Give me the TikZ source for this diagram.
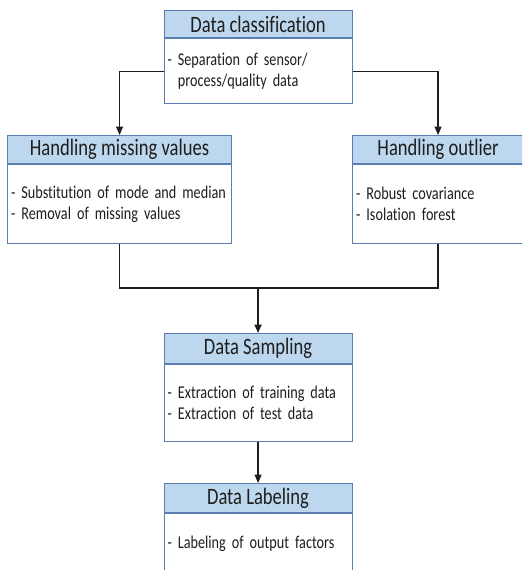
\documentclass[tikz,border=0pt]{standalone}
\usepackage{fontspec}
\setmainfont{Carlito}[FakeStretch=0.79, Ligatures={NoCommon}]
\usetikzlibrary{arrows.meta}
\definecolor{hdrfill}{HTML}{BDD7EE}
\definecolor{boxline}{HTML}{5B7DB1}
\definecolor{ink}{HTML}{1E1E1E}
\tikzset{
  hdr/.style={draw=boxline, line width=1.1pt, fill=hdrfill, anchor=north west,
    inner sep=0pt, text=ink, font=\fontsize{23.5}{27}\selectfont},
  bodybox/.style={draw=boxline, line width=1.1pt, fill=white, anchor=north west,
    inner xsep=3.5pt, inner ysep=0pt, align=left, text=ink,
    font=\fontsize{18}{21}\selectfont},
  link/.style={draw=ink, line width=1.2pt},
  arr/.style={link, -{Triangle[length=8.5pt,width=7pt]}},
  mainarr/.style={arr, line width=2pt}
}
\begin{document}
\begin{tikzpicture}[x=1pt,y=-1pt]
\useasboundingbox (0,0) rectangle (522,570);
\clip (0,0) rectangle (522,570);

% Data classification
\node[hdr, minimum width=188pt, minimum height=27pt] (clsH) at (163.5,10) {Data classification};
\node[bodybox, text width=181pt, minimum height=65pt] (clsB) at (clsH.south west)
  {\mbox{- Separation of sensor/}\\\mbox{\phantom{- }process/quality data}};

% Handling missing values
\node[hdr, minimum width=224pt, minimum height=28pt] (missH) at (7,135) {Handling missing values};
\node[bodybox, text width=217pt, minimum height=79pt] (missB) at (missH.south west)
  {\mbox{- Substitution of mode and median}\\\mbox{- Removal of missing values}};

% Handling outlier
\node[hdr, minimum width=171pt, minimum height=28pt] (outH) at (352,135) {Handling outlier};
\node[bodybox, text width=164pt, minimum height=79pt] (outB) at (outH.south west)
  {\mbox{- Robust covariance}\\\mbox{- Isolation forest}};

% Data Sampling
\node[hdr, minimum width=188pt, minimum height=30pt] (sampH) at (163.5,333) {Data Sampling};
\node[bodybox, text width=181pt, minimum height=77pt] (sampB) at (sampH.south west)
  {\mbox{- Extraction of training data}\\\mbox{- Extraction of test data}};

% Data Labeling
\node[hdr, minimum width=188pt, minimum height=29pt] (labH) at (163.5,483) {Data Labeling};
\node[bodybox, text width=181pt, minimum height=60pt] (labB) at (labH.south west)
  {\mbox{- Labeling of output factors}};

% connectors
\coordinate (join) at (sampH.north |- 0,288);
\draw[arr] (clsB.west) -| (missH.north);
\draw[arr] (clsB.east) -| (outH.north);
\draw[link] (missB.south) |- (join) -| (outB.south);
\draw[mainarr] (join) -- (sampH.north);
\draw[arr] (sampB.south) -- (labH.north);
\end{tikzpicture}
\end{document}
